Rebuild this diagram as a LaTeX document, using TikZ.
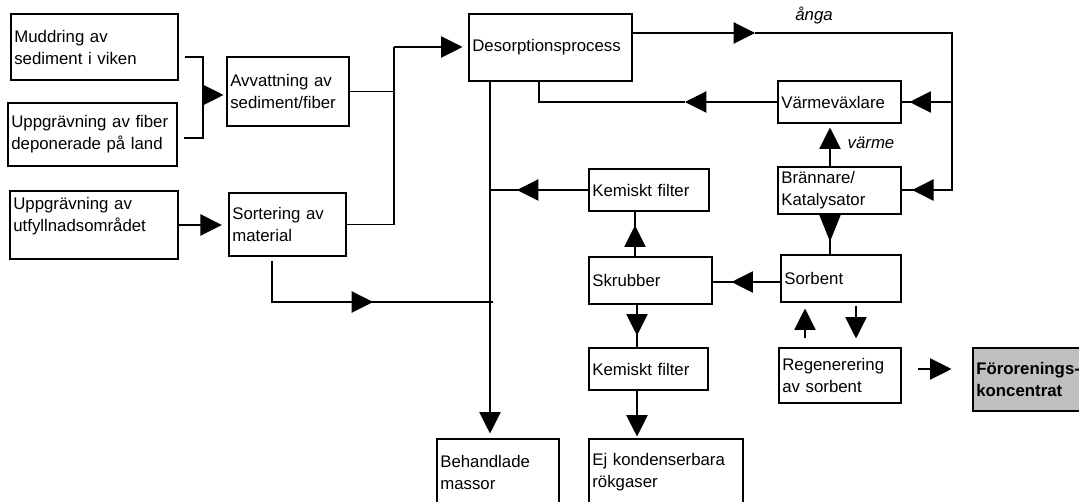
\documentclass[tikz,border=0pt]{standalone}
\usepackage{fontspec}
\setmainfont{Liberation Sans}
\usetikzlibrary{arrows.meta}
\newcommand\myfs{\fontsize{12.6pt}{16.5pt}\selectfont}
\begin{document}
\begin{tikzpicture}[x=0.75pt, y=-0.75pt, line width=0.8pt,
  bx/.style 2 args={draw, text width=#1, minimum height=#2, inner xsep=2.5pt, inner ysep=0pt, align=left, font=\myfs},
  arr/.style={-{Triangle[length=16pt,width=16pt]}},
  arrlong/.style={-{Triangle[length=20pt,width=16pt]}},
  lbl/.style={inner sep=0pt, font=\myfs\itshape}]
\useasboundingbox (0,0) rectangle (1079,502);

% boxes
\node[bx={120.25pt}{49.5pt}]  (mud)  at (94.5,47)   {Muddring av\\sediment i viken};
\node[bx={121.75pt}{47.25pt}] (fib)  at (92.5,134.5) {Uppgrävning av fiber\\deponerade på land};
\node[bx={121pt}{51pt}]       (utf)  at (94,225)    {Uppgrävning av\\utfyllnadsområdet\\\mbox{}};
\node[bx={86.5pt}{51.75pt}]   (avv)  at (288,91.5)  {Avvattning av\\sediment/fiber};
\node[bx={82.75pt}{47.25pt}]  (sor)  at (287.5,224.5) {Sortering av\\material};
\node[bx={117.25pt}{50.25pt}] (des)  at (550.5,47.5) {Desorptionsprocess};
\node[bx={87.25pt}{31.5pt}]   (vvx)  at (839.5,102) {Värmeväxlare};
\node[bx={87.25pt}{35.25pt}]  (bra)  at (839.5,190.5) {Brännare/\\Katalysator};
\node[bx={85pt}{31.5pt}]      (kf1)  at (649,190)   {Kemiskt filter};
\node[bx={85pt}{35.25pt}]     (sorb) at (841,278.5) {Sorbent};
\node[bx={87.25pt}{35.25pt}]  (skr)  at (650.5,280.5) {Skrubber};
\node[bx={84.25pt}{31.5pt}]   (kf2)  at (648.5,369) {Kemiskt filter};
\node[bx={86.5pt}{41.25pt}]   (reg)  at (840,375.5) {Regenerering\\av sorbent};
\node[bx={85pt}{47.25pt}, fill=black!25, font=\myfs\bfseries] (forb) at (1033,379.5) {Förorenings-\\koncentrat};
\node[bx={86.5pt}{49.5pt}]    (beh)  at (498,472)   {Behandlade\\massor};
\node[bx={110.5pt}{49.5pt}]   (ej)   at (666,472)   {Ej kondenserbara\\rökgaser};

% labels
\node[lbl, anchor=base] (lA) at (814,21) {ånga};
\node[lbl, anchor=base] (lV) at (871,149) {värme};

% helper coordinates
\coordinate (bU) at (203,57);
\coordinate (bD) at (203,138);
\coordinate (bM) at (203,95);
\coordinate (vA) at (394,47);
\coordinate (rT) at (952,33);
\coordinate (rB) at (952,190);
\coordinate (tA) at (755,33);
\coordinate (dR) at (539,102);
\coordinate (tR) at (685,102);
\coordinate (cX) at (830,0);
\coordinate (hS) at (740,282);
\coordinate (cK) at (635,0);
\coordinate (vM) at (490,0);
\coordinate (tK) at (517,190);
\coordinate (s1) at (272,302);
\coordinate (s2) at (493,302);
\coordinate (tS) at (373,302);
\coordinate (cL) at (637,0);
\coordinate (cU) at (805,0);
\coordinate (cD) at (856,0);
\coordinate (hF) at (0,369);

% bracket into Avvattning
\draw ([xshift=4.5pt]mud.east |- bU) -- (bU) -- (bD) -- ([xshift=4.5pt]fib.east |- bD);
\draw[arr] (bM) -- ([xshift=-2.25pt]avv.west |- bM);
% utfyllnad -> sortering
\draw[arr] (utf.east) -- ([xshift=-5pt]sor.west |- utf.east);
% collector into desorption
\draw (avv.east) -- (avv.east -| vA);
\draw (sor.east) -- (sor.east -| vA) -- (vA);
\draw[arr] (vA) -- ([xshift=-4.5pt]des.west |- vA);
% steam loop
\draw[arr] (des.east |- rT) -- (tA);
\draw (tA) -- (rT) -- (rB) -- (bra.east |- rB);
\draw (rT |- vvx.east) -- (vvx.east);
\draw[arr] (rT |- vvx.east) -- ([xshift=6pt]vvx.east);
\draw[arr] (rB) -- ([xshift=8pt]bra.east |- rB);
% return from heat exchanger
\draw[arr] (vvx.west) -- (tR);
\draw (tR) -- (dR) -- (dR |- des.south);
% heat
\draw[arr] (cX |- bra.north) -- ([yshift=-3pt]cX |- vvx.south);
% burner -> sorbent
\draw (cX |- bra.south) -- (cX |- sorb.north);
\draw[arrlong] (cX |- bra.south) -- ([yshift=9.75pt]cX |- sorb.north);
% sorbent -> scrubber
\draw (sorb.west |- hS) -- (skr.east |- hS);
\draw[arr] (sorb.west |- hS) -- ([xshift=14.25pt]skr.east |- hS);
% scrubber -> chemical filter 1
\draw (cK |- skr.north) -- (cK |- kf1.south);
\draw[arr] (cK |- skr.north) -- ([yshift=-10.5pt]cK |- kf1.south);
% chemical filter 1 -> main vertical
\draw (kf1.west) -- (kf1.west -| vM);
\draw[arr] (kf1.west) -- (tK);
% desorption -> treated masses
\draw[arr] (vM |- des.south) -- ([yshift=3.75pt]vM |- beh.north);
% sortering -> main vertical
\draw ([yshift=-3pt]s1 |- sor.south) -- (s1) -- (s2);
\draw[arr] (s1) -- (tS);
% scrubber -> chemical filter 2 -> gases
\draw (cL |- skr.south) -- (cL |- kf2.north);
\draw[arr] (cL |- skr.south) -- ([yshift=9pt]cL |- kf2.north);
\draw[arr] (cL |- kf2.south) -- ([yshift=1.5pt]cL |- ej.north);
% sorbent <-> regeneration
\draw[arr] ([yshift=6.75pt]cU |- reg.north) -- ([yshift=-4.5pt]cU |- sorb.south);
\draw[arr] ([yshift=-2.25pt]cD |- sorb.south) -- ([yshift=6.75pt]cD |- reg.north);
% regeneration -> concentrate
\draw[arr] ([xshift=12pt]reg.east |- hF) -- ([xshift=-15.75pt]forb.west |- hF);
\end{tikzpicture}
\end{document}
